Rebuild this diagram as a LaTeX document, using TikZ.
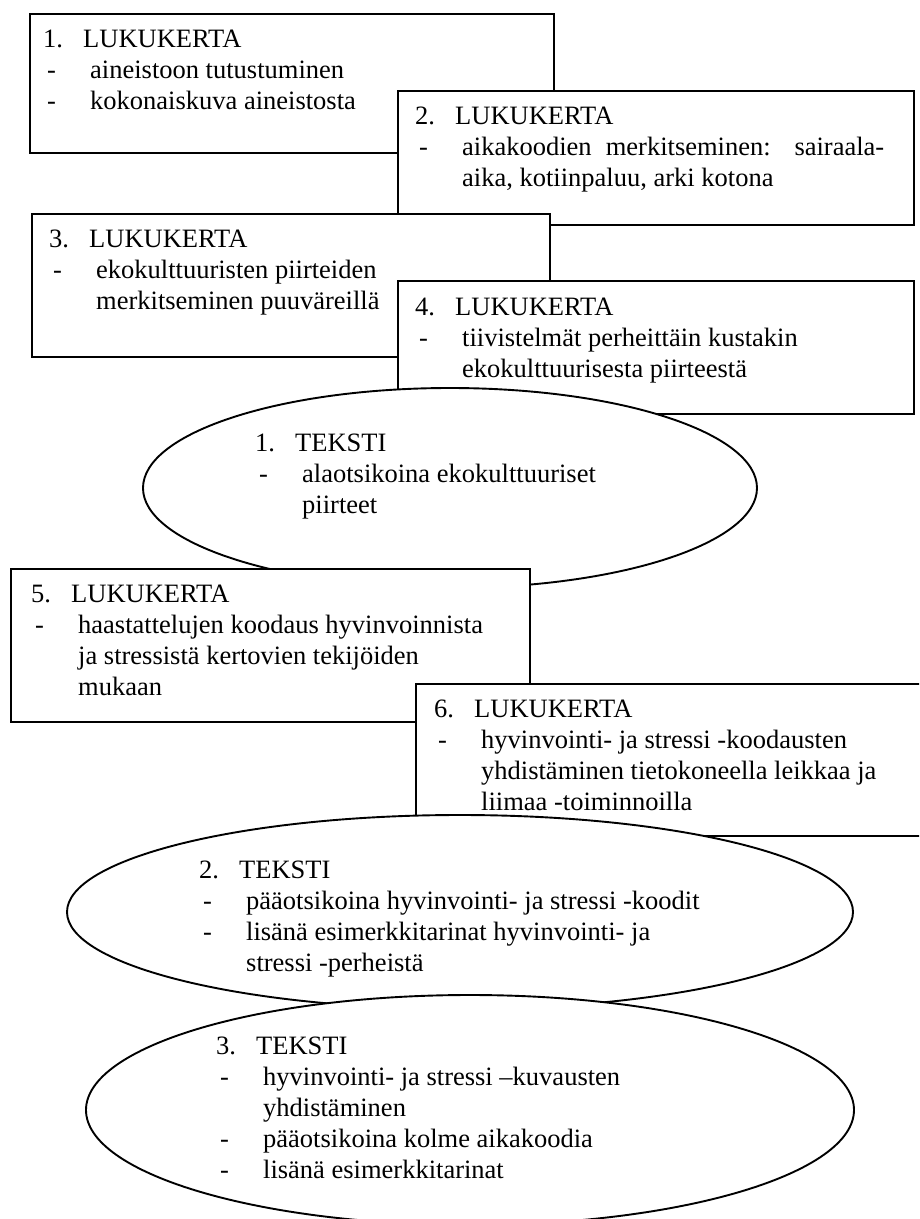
\documentclass[tikz,border=0pt]{standalone}
\usepackage{fontspec}
\setmainfont{Liberation Serif}
\usetikzlibrary{shapes.geometric}
\newcommand{\numrow}[2]{\makebox[40pt][l]{#1}#2}
\newcommand{\itemrow}[1]{\hspace*{4pt}\makebox[43pt][l]{-}#1}
\newcommand{\controw}[1]{\hspace*{47pt}#1}
\newcommand{\txtblock}[1]{\begin{tabular}[t]{@{}l@{}}#1\end{tabular}}
\begin{document}
\begin{tikzpicture}[x=1pt,y=-1pt,
  boxnode/.style={draw=black, line width=1.5pt, fill=white, rectangle, anchor=north west, inner sep=0pt},
  ellnode/.style={draw=black, line width=1.9pt, fill=white, ellipse, inner sep=0pt},
  txt/.style={anchor=base west, inner sep=0pt, font=\fontsize{26.5pt}{31pt}\selectfont}]
\useasboundingbox (0,0) rectangle (919,1219);
\clip (0,0) rectangle (919,1219);
\fill[white] (0,0) rectangle (919,1219);

% box 1
\node[boxnode, minimum width=524pt, minimum height=139pt] (b1) at (29,13) {};
\node[txt] (t1) at (43,47) {\txtblock{\numrow{1.}{LUKUKERTA}\\ \itemrow{aineistoon tutustuminen}\\ \itemrow{kokonaiskuva aineistosta}}};

% box 2
\node[boxnode, minimum width=516pt, minimum height=134pt] (b2) at (397,90) {};
\node[txt] (t2) at (415,124) {\txtblock{\numrow{2.}{LUKUKERTA}\\ \itemrow{\makebox[422pt][s]{aikakoodien merkitseminen: sairaala-}}\\ \controw{aika, kotiinpaluu, arki kotona}}};

% box 3
\node[boxnode, minimum width=518pt, minimum height=143pt] (b3) at (31,213) {};
\node[txt] (t3) at (49,247) {\txtblock{\numrow{3.}{LUKUKERTA}\\ \itemrow{ekokulttuuristen piirteiden}\\ \controw{merkitseminen puuväreillä}}};

% box 4
\node[boxnode, minimum width=516pt, minimum height=133pt] (b4) at (397,280) {};
\node[txt] (t4) at (415,315) {\txtblock{\numrow{4.}{LUKUKERTA}\\ \itemrow{tiivistelmät perheittäin kustakin}\\ \controw{ekokulttuurisesta piirteestä}}};

% ellipse 1
\node[ellnode, minimum width=614pt, minimum height=200pt] (e1) at (450,488) {};
\node[txt] (te1) at (255,451) {\txtblock{\numrow{1.}{TEKSTI}\\ \itemrow{alaotsikoina ekokulttuuriset}\\ \controw{piirteet}}};

% box 5
\node[boxnode, minimum width=519pt, minimum height=153pt] (b5) at (10,568) {};
\node[txt] (t5) at (31,602) {\txtblock{\numrow{5.}{LUKUKERTA}\\ \itemrow{haastattelujen koodaus hyvinvoinnista}\\ \controw{ja stressistä kertovien tekijöiden}\\ \controw{mukaan}}};

% box 6
\node[boxnode, minimum width=530pt, minimum height=152pt] (b6) at (415,683) {};
\node[txt] (t6) at (434,717) {\txtblock{\numrow{6.}{LUKUKERTA}\\ \itemrow{hyvinvointi- ja stressi -koodausten}\\ \controw{yhdistäminen tietokoneella leikkaa ja}\\ \controw{liimaa -toiminnoilla}}};

% ellipse 2
\node[ellnode, minimum width=786pt, minimum height=194pt] (e2) at (460,912) {};
\node[txt] (te2) at (199,878) {\txtblock{\numrow{2.}{TEKSTI}\\ \itemrow{pääotsikoina hyvinvointi- ja stressi -koodit}\\ \itemrow{lisänä esimerkkitarinat hyvinvointi- ja}\\ \controw{stressi -perheistä}}};

% ellipse 3
\node[ellnode, minimum width=768pt, minimum height=230pt] (e3) at (470,1110) {};
\node[txt] (te3) at (216,1054) {\txtblock{\numrow{3.}{TEKSTI}\\ \itemrow{hyvinvointi- ja stressi –kuvausten}\\ \controw{yhdistäminen}\\ \itemrow{pääotsikoina kolme aikakoodia}\\ \itemrow{lisänä esimerkkitarinat}}};
\end{tikzpicture}
\end{document}
